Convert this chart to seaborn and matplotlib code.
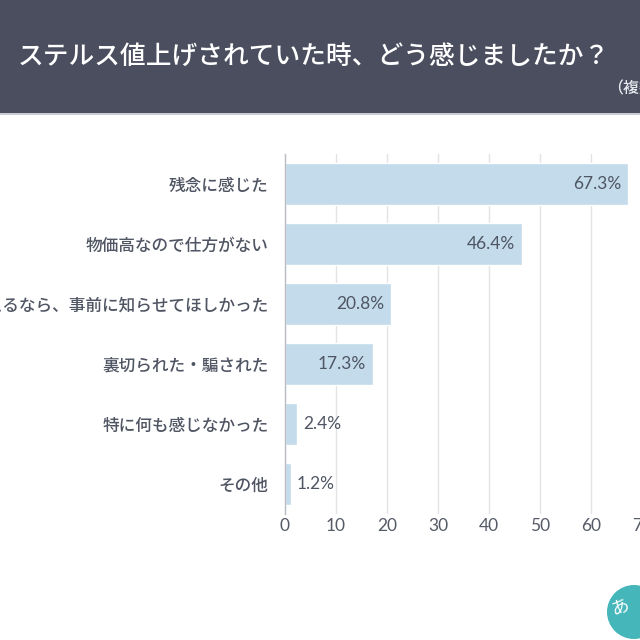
import matplotlib
matplotlib.use("Agg")
import matplotlib.pyplot as plt
import seaborn as sns
import pandas as pd
from matplotlib.patches import Rectangle, Circle

categories = [
    "残念に感じた",
    "物価高なので仕方がない",
    "変えるなら、事前に知らせてほしかった",
    "裏切られた・騙された",
    "特に何も感じなかった",
    "その他",
]
values = [67.3, 46.4, 20.8, 17.3, 2.4, 1.2]
x_ticks = [0, 10, 20, 30, 40, 50, 60, 70]
title = "ステルス値上げされていた時、どう感じましたか？"
subtitle = "（複数回答）"

sns.set_theme(style="white")
plt.rcParams['font.family'] = ['Noto Sans CJK JP', 'DejaVu Sans']

df = pd.DataFrame({"cat": categories, "val": values})

fig = plt.figure(figsize=(6.4, 6.4), dpi=100)
fig.patch.set_facecolor("white")

# header band
fig.add_artist(Rectangle((0, 1 - 113 / 640), 1, 113 / 640, transform=fig.transFigure,
                         facecolor="#4a4e5e", edgecolor="none", zorder=0))
fig.add_artist(Rectangle((0, 1 - 115 / 640), 1, 2 / 640, transform=fig.transFigure,
                         facecolor="#c9ccd3", edgecolor="none", zorder=0))
fig.text(0.5 - 6 / 640, 1 - 56 / 640, title, color="white", fontsize=18.5,
         fontweight="medium", ha="center", va="center")
fig.text(607 / 640, 1 - 89 / 640, subtitle, color="#e8e9ee", fontsize=11.5,
         ha="left", va="center", fontweight="medium")

ax = fig.add_axes([285 / 640, 1 - 514 / 640, (642 - 285) / 640, 360 / 640])
sns.barplot(data=df, x="val", y="cat", orient="h", color="#c3dbeb",
            saturation=1, width=0.7, ax=ax, zorder=3)

ax.set_xlim(0, 70)
ax.set_ylim(5.5, -0.5)
ax.set_xticks(x_ticks)
ax.set_xticklabels([str(t) for t in x_ticks])
ax.set_xlabel("")
ax.set_ylabel("")
ax.grid(axis="x", color="#e2e3e6", linewidth=1, zorder=0)
ax.set_axisbelow(True)
for s in ["top", "right", "bottom"]:
    ax.spines[s].set_visible(False)
ax.spines["left"].set_color("#b9bcc2")
ax.spines["left"].set_linewidth(1)
ax.spines["left"].set_zorder(4)
ax.tick_params(axis="y", length=0, pad=12, labelsize=12, labelcolor="#505563")
ax.tick_params(axis="x", length=0, pad=3, labelsize=12.5, labelcolor="#555a66")
for lab in ax.get_yticklabels():
    lab.set_fontweight("medium")
for lab in ax.get_xticklabels():
    lab.set_fontfamily(["Lato", "DejaVu Sans"])

for i, v in enumerate(values):
    if v >= 10:
        ax.annotate(f"{v}%", (v, i), xytext=(-5, 0), textcoords="offset points",
                    ha="right", va="center", fontsize=12.5, color="#4f5563",
                    family=["Lato", "DejaVu Sans"], zorder=5)
    else:
        ax.annotate(f"{v}%", (v, i), xytext=(4, 0), textcoords="offset points",
                    ha="left", va="center", fontsize=12.5, color="#4f5563",
                    family=["Lato", "DejaVu Sans"], zorder=5)

# logo mark
fig.add_artist(Circle((634 / 640, 1 - 612 / 640), 27 / 640, transform=fig.transFigure,
                      facecolor="#45b6ba", edgecolor="none"))
fig.text(620 / 640, 1 - 606 / 640, "あ", color="white", fontsize=13,
         ha="center", va="center", rotation=20)

fig.savefig("out.png", dpi=100, facecolor="white")
